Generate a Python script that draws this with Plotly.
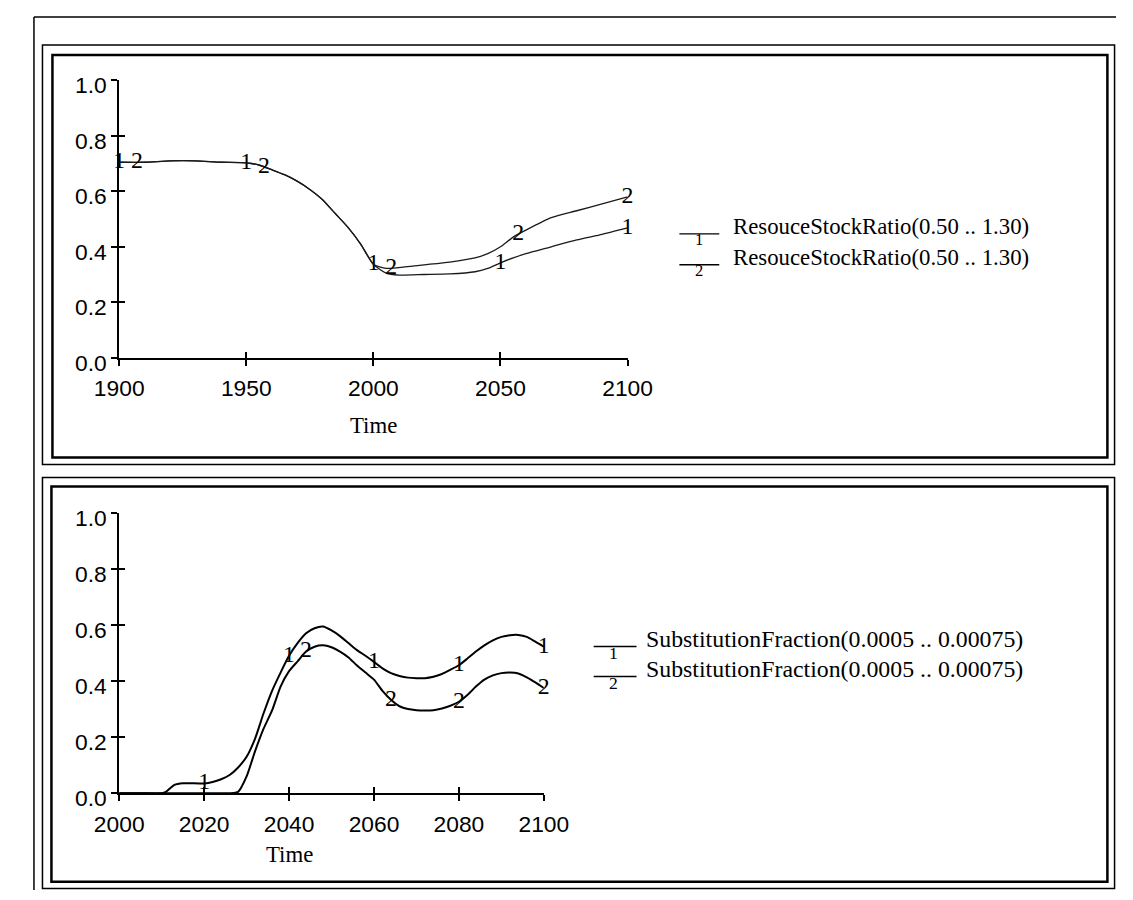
import numpy as np
import plotly.graph_objects as go

# ---------------- data ----------------
years_top = [1900, 1910, 1920, 1930, 1940, 1950, 1955, 1960, 1965, 1970, 1975, 1980, 1985,
             1990, 1995, 2000, 2005, 2010, 2020, 2030, 2040, 2045, 2050, 2055, 2060, 2070,
             2080, 2090, 2100]
ratio_run1 = [0.705, 0.705, 0.71, 0.71, 0.705, 0.703, 0.695, 0.678, 0.66, 0.637, 0.607, 0.57, 0.52,
              0.47, 0.41, 0.337, 0.305, 0.298, 0.30, 0.302, 0.31, 0.322, 0.342, 0.36, 0.375, 0.40,
              0.425, 0.445, 0.468]
ratio_run2 = [0.705, 0.705, 0.71, 0.71, 0.705, 0.703, 0.695, 0.678, 0.66, 0.637, 0.607, 0.57, 0.52,
              0.47, 0.41, 0.337, 0.322, 0.325, 0.335, 0.345, 0.36, 0.375, 0.40, 0.435, 0.46, 0.505,
              0.53, 0.555, 0.58]
ratio_label_years_1 = [1900, 1950, 2000, 2050, 2100]
ratio_label_years_2 = [1907, 1957, 2007, 2057, 2100]

years_bot = [2000, 2005, 2010, 2011, 2013, 2015, 2020, 2022, 2024, 2026, 2028, 2030, 2032, 2034,
             2036, 2038, 2040, 2042, 2044, 2046, 2048, 2050, 2052, 2054, 2056, 2058, 2060, 2062,
             2064, 2066, 2068, 2070, 2072, 2074, 2076, 2078, 2080, 2082, 2084, 2086, 2088, 2090,
             2092, 2094, 2096, 2098, 2100]
subst_run1 = [0, 0, 0, 0.005, 0.03, 0.036, 0.035, 0.04, 0.05, 0.065, 0.092, 0.13, 0.195, 0.285,
              0.365, 0.43, 0.49, 0.535, 0.57, 0.588, 0.594, 0.58, 0.56, 0.535, 0.51, 0.49, 0.468, 0.445,
              0.428, 0.418, 0.412, 0.41, 0.41, 0.415, 0.425, 0.44, 0.456, 0.48, 0.505, 0.527, 0.545, 0.557,
              0.563, 0.564, 0.557, 0.54, 0.522]
subst_run2 = [0, 0, 0, 0, 0, 0, 0, 0, 0, 0, 0.005, 0.06, 0.15, 0.23,
              0.295, 0.38, 0.435, 0.47, 0.505, 0.522, 0.527, 0.52, 0.505, 0.484, 0.455, 0.43, 0.405, 0.365,
              0.333, 0.31, 0.30, 0.296, 0.295, 0.296, 0.302, 0.312, 0.326, 0.35, 0.38, 0.405, 0.42, 0.428,
              0.43, 0.427, 0.413, 0.395, 0.375]
subst_label_years_1 = [2020, 2040, 2060, 2080, 2100]
subst_label_years_2 = [2044, 2064, 2080, 2100]

top_xticks = [1900, 1950, 2000, 2050, 2100]
bot_xticks = [2000, 2020, 2040, 2060, 2080, 2100]
y_ticks = [0.0, 0.2, 0.4, 0.6, 0.8, 1.0]
y_ticktext = ["0.0", "0.2", "0.4", "0.6", "0.8", "1.0"]

legend_top = ["ResouceStockRatio(0.50 .. 1.30)", "ResouceStockRatio(0.50 .. 1.30)"]
legend_bot = ["SubstitutionFraction(0.0005 .. 0.00075)", "SubstitutionFraction(0.0005 .. 0.00075)"]
run_names = ["1", "2"]
axis_title = "Time"

# ---------------- geometry helpers ----------------
# Positions are given in the reference picture's pixel grid and mapped to the
# page grid (the captured picture shows the page slightly reduced and offset).
W, H = 1133, 900
AX, SXS = 23.5, 0.959
AY, SYS = 8.0, 0.972
FS = 1.0 / 0.965  # font compensation

def cx(x):
    return (x - AX) / SXS
def cy(y):
    return (y - AY) / SYS
def fx(c):
    return min(max(c, 0.0), W) / W
def fy(c):
    return 1 - min(max(c, 0.0), H) / H
def px(x):
    return fx(cx(x))
def py(y):
    return fy(cy(y))

SANS = "Liberation Sans, Arial, sans-serif"
SERIF = "Liberation Serif, Times New Roman, serif"

fig = go.Figure()

def add_lines(xs, series, labels_years, xa, ya, width, color):
    for i, (vals, lyears) in enumerate(zip(series, labels_years)):
        fig.add_trace(go.Scatter(x=xs, y=vals, mode="lines", xaxis=xa, yaxis=ya,
                                 line=dict(color=color, width=width, shape="spline", smoothing=0.6),
                                 showlegend=False, hoverinfo="skip", cliponaxis=False))
        ly = np.interp(lyears, xs, vals)
        fig.add_trace(go.Scatter(x=lyears, y=ly, mode="text", text=[run_names[i]] * len(lyears),
                                 xaxis=xa, yaxis=ya, textposition="middle center",
                                 textfont=dict(family=SERIF, size=23 * FS, color="black"),
                                 showlegend=False, hoverinfo="skip", cliponaxis=False))

add_lines(years_top, [ratio_run1, ratio_run2], [ratio_label_years_1, ratio_label_years_2],
          "x", "y", 1.3, "#1a1a1a")
add_lines(years_bot, [subst_run1, subst_run2], [subst_label_years_1, subst_label_years_2],
          "x2", "y2", 2.0, "black")

# dummy traces so that overlay axes (inside halves of the cross ticks) are drawn
fig.add_trace(go.Scatter(x=[None], y=[None], xaxis="x3", yaxis="y3", showlegend=False, hoverinfo="skip"))
fig.add_trace(go.Scatter(x=[None], y=[None], xaxis="x4", yaxis="y4", showlegend=False, hoverinfo="skip"))

top_xdom = [px(110), px(620)]
top_ydom = [py(350), py(72.5)]
bot_xdom = [px(110), px(536)]
bot_ydom = [py(786), py(505)]

TF = 22 * FS

def xax(dom, rng, ticks, anchor):
    return dict(domain=dom, range=rng, tickvals=ticks, showline=True, linecolor="black", linewidth=2,
                ticks="outside", ticklen=6, tickwidth=2, tickcolor="black", showgrid=False,
                zeroline=False, anchor=anchor, ticklabelstandoff=3,
                tickfont=dict(family=SANS, size=TF, color="black"))

def yax(dom, ticks, anchor):
    return dict(domain=dom, range=[0, 1], tickvals=ticks, ticktext=y_ticktext, showline=True,
                linecolor="black", linewidth=2, ticks="outside", ticklen=6, tickwidth=2,
                tickcolor="black", showgrid=False, zeroline=False, anchor=anchor,
                ticklabelshift=5, ticklabelstandoff=0,
                tickfont=dict(family=SANS, size=TF, color="black"))

def inside(base, rng, ticks, anchor):
    return dict(overlaying=base, range=rng, tickvals=ticks, showticklabels=False, showline=False,
                ticks="inside", ticklen=6, tickwidth=2, tickcolor="black", showgrid=False,
                zeroline=False, anchor=anchor)

fig.update_layout(
    width=W, height=H, margin=dict(l=0, r=0, t=0, b=0, pad=0),
    paper_bgcolor="white", plot_bgcolor="rgba(0,0,0,0)", showlegend=False,
    xaxis=xax(top_xdom, [1900, 2100], top_xticks, "y"),
    yaxis=yax(top_ydom, y_ticks, "x"),
    xaxis2=xax(bot_xdom, [2000, 2100], bot_xticks, "y2"),
    yaxis2=yax(bot_ydom, y_ticks, "x2"),
    xaxis3=inside("x", [1900, 2100], top_xticks, "y3"),
    yaxis3=inside("y", [0, 1], y_ticks, "x3"),
    xaxis4=inside("x2", [2000, 2100], bot_xticks, "y4"),
    yaxis4=inside("y2", [0, 1], y_ticks, "x4"),
)
fig.layout.yaxis3.domain = top_ydom
fig.layout.xaxis3.domain = top_xdom
fig.layout.yaxis4.domain = bot_ydom
fig.layout.xaxis4.domain = bot_xdom

shapes = []
def cline(x0, y0, x1, y1, w):
    shapes.append(dict(type="line", xref="paper", yref="paper", x0=fx(x0), y0=fy(y0),
                       x1=fx(x1), y1=fy(y1), line=dict(color="black", width=w)))
def crect(x0, y0, x1, y1, w):
    shapes.append(dict(type="rect", xref="paper", yref="paper", x0=fx(x0), y0=fy(y0),
                       x1=fx(x1), y1=fy(y1), line=dict(color="black", width=w)))

# outer page frame (left and top only)
left_c = max(cx(7), 1.0)
top_c = max(cy(9), 1.0)
cline(left_c, top_c, W, top_c, 1.5)
cline(left_c, top_c, left_c, H, 1.5)
# panel frames (double)
r1o = min(cx(1117), W - 1.5)
r1i = min(cx(1111), r1o - 7.5)
r2o = min(cx(1122), W - 1.5)
r2i = min(cx(1117), r2o - 7.5)
b2o = min(cy(891), H - 1.5)
b2i = min(cy(885), b2o - 7.0)
crect(cx(33), cy(37), r1o, cy(457), 1.5)
crect(cx(43), cy(47), r1i, cy(450), 2.5)
crect(cx(33), cy(470), r2o, b2o, 1.5)
crect(cx(42), cy(479), r2i, b2i, 2.5)

annotations = []
def text(x, y, s, size, family=SERIF, xanchor="center"):
    annotations.append(dict(x=px(x), y=py(y), xref="paper", yref="paper", text=s, showarrow=False,
                            xanchor=xanchor, yanchor="middle",
                            font=dict(family=family, size=size * FS, color="black")))

# axis titles
text(365, 418, axis_title, 22)
text(281, 847, axis_title, 22)

# legends
def lline(x0, x1, y, w):
    cline(cx(x0), cy(y), cx(x1), cy(y), w)

for i, (lab, ly) in enumerate(zip(legend_top, [226, 257])):
    lline(672, 712, ly, 1.3)
    text(692, ly + 6, run_names[i], 16)
    text(724, ly - 7, lab, 22, xanchor="left")
for i, (lab, ly) in enumerate(zip(legend_bot, [639, 669])):
    lline(586, 629, ly, 1.5)
    text(606, ly + 7, run_names[i], 17)
    text(636, ly - 7, lab, 23, xanchor="left")

fig.update_layout(shapes=shapes, annotations=annotations)
fig.write_html("out.html", config={"displayModeBar": False})
